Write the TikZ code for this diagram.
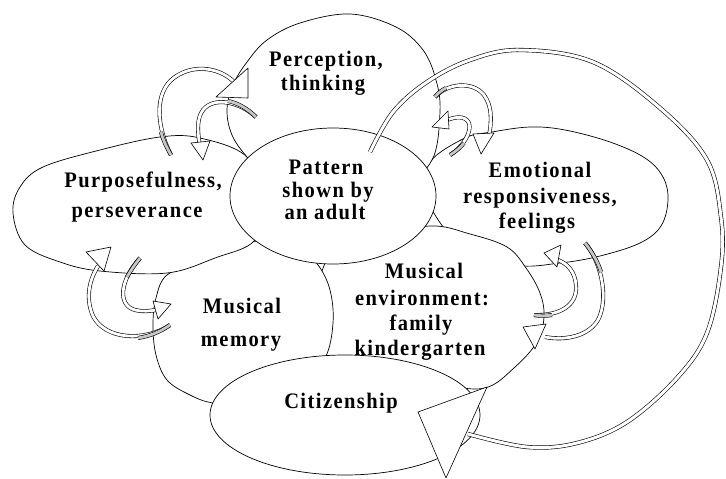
\documentclass[tikz,border=0pt]{standalone}
\usepackage{fontspec}
\setmainfont{Liberation Serif}[LetterSpace=7]
\usetikzlibrary{calc,shapes.geometric}
\newcommand{\tall}[1]{\scalebox{1}[1.08]{#1}}
\begin{document}
\begin{tikzpicture}[x=1pt,y=-1pt,
  blob/.style={draw=black, line width=0.7pt, fill=white},
  lbl/.style={font=\fontsize{20.5}{24}\selectfont\bfseries, inner sep=0pt, anchor=base},
  carrow/.style={draw=black, line width=0.6pt, double=white, double distance=2.8pt},
  gtail/.style={draw=black, line width=0.6pt, double=gray!45, double distance=2.8pt},
  ahead/.style={draw=black, line width=0.6pt, fill=white, line join=round},
  bigarc/.style={draw=black, line width=0.6pt, double=white, double distance=3pt}]
\useasboundingbox (0,0) rectangle (726,479);

% blobs, back to front
\draw[blob] plot[smooth cycle, tension=0.6] coordinates {(492,132) (530,127) (565,130) (610,142) (645,158) (663,177) (668,200) (661,226) (640,243) (600,256) (560,263) (515,265) (460,245) (425,195) (430,162) (465,138)};
\draw[blob] plot[smooth cycle, tension=0.6] coordinates {(485,388) (440,385) (380,378) (330,360) (315,310) (330,255) (370,238) (430,226) (470,234) (507,247) (526,268) (540,293) (544,317) (537,342) (515,367)};
\draw[blob] plot[smooth cycle, tension=0.6] coordinates {(213,403) (190,395) (167,380) (156,355) (153,325) (156,298) (167,275) (200,262) (250,242) (300,250) (318,265) (330,290) (333,323) (325,358) (300,385) (250,405)};
\draw[blob] plot[smooth cycle, tension=0.6] coordinates {(13,213) (20,187) (43,167) (100,150) (160,137) (200,138) (247,157) (262,200) (255,240) (215,258) (167,273) (100,271) (60,262) (25,245)};
\draw[blob] plot[smooth cycle, tension=0.6] coordinates {(247,157) (232,135) (227,110) (233,85) (247,62) (267,40) (300,23) (350,14) (396,27) (423,50) (436,80) (440,112) (432,160) (400,185) (330,195) (270,180)};
\node[blob, ellipse, minimum width=206pt, minimum height=136pt, inner sep=0pt] (pattern) at (333,196) {};
\node[blob, ellipse, minimum width=270pt, minimum height=120pt, inner sep=0pt] (citizen) at (345,415) {};

% big arc and its head
\draw[bigarc] plot[smooth, tension=0.6] coordinates {(370,152) (393,112) (427,82) (470,60) (520,50) (593,62) (660,108) (707,160) (721,217) (721,267) (707,333) (677,378) (627,422) (577,443) (527,447) (468,434)};
\draw[ahead] (418,412) -- (487,387) -- (446,478) -- cycle;

% curved arrows: cluster A
\draw[carrow] (171,155) .. controls (157,128) and (153,92) .. (175,77) .. controls (195,63) and (222,68) .. (236,84);
\draw[gtail] (171,155) .. controls (167,148) and (163,140) .. (161,132);
\draw[ahead] (216,97) -- (248,68) -- (248,98) -- cycle;
\draw[carrow] (256,117) .. controls (240,102) and (214,96) .. (203,110) .. controls (197,118) and (197,130) .. (200,146);
\draw[gtail] (256,117) .. controls (248,109) and (238,103) .. (228,101);
\draw[ahead] (191,143) -- (210,141) -- (203,160) -- cycle;
% cluster B
\draw[carrow] (435,97) .. controls (446,84) and (472,80) .. (484,95) .. controls (492,106) and (492,120) .. (489,136);
\draw[gtail] (435,97) .. controls (438,93) and (442,90) .. (446,88);
\draw[ahead] (473,134) -- (494,133) -- (481,154) -- cycle;
\draw[carrow] (450,155) .. controls (463,147) and (472,132) .. (469,123) .. controls (465,115) and (455,117) .. (447,120);
\draw[gtail] (450,155) .. controls (455,152) and (460,148) .. (464,143);
\draw[ahead] (448,111) -- (449,129) -- (432,127) -- cycle;
% cluster C
\draw[carrow] (170,325) .. controls (145,342) and (105,340) .. (93,316) .. controls (86,300) and (88,282) .. (98,266);
\draw[gtail] (170,325) .. controls (160,332) and (150,336) .. (138,338);
\draw[ahead] (86,252) -- (111,247) -- (104,271) -- cycle;
\draw[carrow] (140,258) .. controls (120,280) and (117,305) .. (135,310) .. controls (142,312) and (150,311) .. (156,310);
\draw[gtail] (140,258) .. controls (136,263) and (131,270) .. (127,277);
\draw[ahead] (153,301) -- (171,304) -- (158,319) -- cycle;
% cluster D
\draw[carrow] (534,315) .. controls (560,316) and (578,305) .. (576,285) .. controls (575,272) and (568,264) .. (558,260);
\draw[gtail] (534,315) .. controls (540,316) and (546,316) .. (552,315);
\draw[ahead] (544,253) -- (561,245) -- (557,267) -- cycle;
\draw[carrow] (585,243) .. controls (600,260) and (609,295) .. (599,318) .. controls (590,336) and (566,341) .. (545,337);
\draw[gtail] (585,243) .. controls (592,252) and (598,262) .. (601,272);
\draw[ahead] (523,327) -- (546,324) -- (535,349) -- cycle;

% labels
\node[lbl] (perc1) at (326,66) {\tall{Perception,}};
\node[lbl] (perc2) at (323,90) {\tall{thinking}};
\node[lbl] (patt1) at (326,174) {\tall{Pattern}};
\node[lbl] (patt2) at (328,197) {\tall{shown by}};
\node[lbl] (patt3) at (325,219) {\tall{an adult}};
\node[lbl] (purp1) at (143,187) {\tall{Purposefulness,}};
\node[lbl] (purp2) at (137,217) {\tall{perseverance}};
\node[lbl] (emo1) at (540,177) {\tall{Emotional}};
\node[lbl] (emo2) at (540,203) {\tall{responsiveness,}};
\node[lbl] (emo3) at (537,228) {\tall{feelings}};
\node[lbl] (env1) at (424,278) {\tall{Musical}};
\node[lbl] (env2) at (422,305) {\tall{environment:}};
\node[lbl] (env3) at (421,330) {\tall{family}};
\node[lbl] (env4) at (420,355) {\tall{kindergarten}};
\node[lbl] (mem1) at (242,313) {\tall{Musical}};
\node[lbl] (mem2) at (241,346) {\tall{memory}};
\node[lbl] (cit) at (341,408) {\tall{Citizenship}};
\end{tikzpicture}
\end{document}
